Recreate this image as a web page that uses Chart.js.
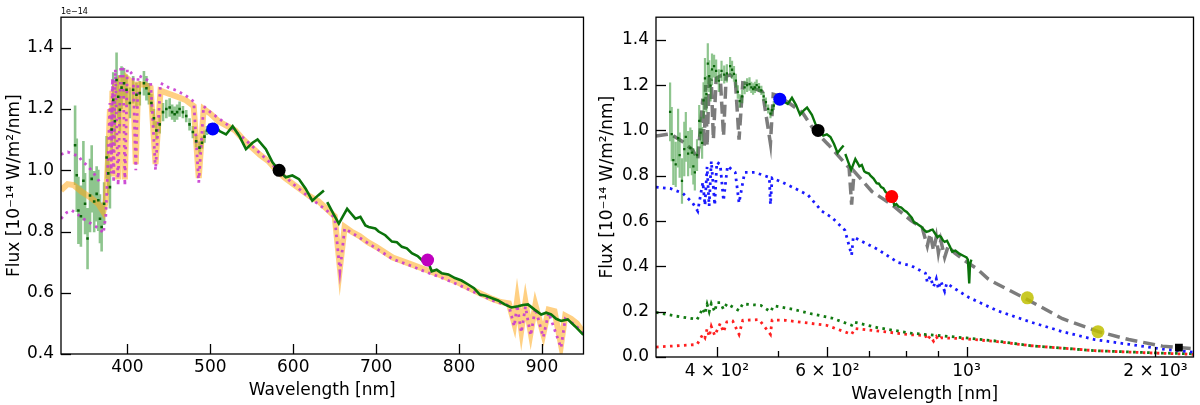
<!DOCTYPE html>
<html>
<head>
<meta charset="utf-8">
<script src="https://cdn.jsdelivr.net/npm/chart.js@4.4.1/dist/chart.umd.min.js"></script>
<style>
  html, body { margin: 0; padding: 0; background: #fff; }
  #wrap { position: relative; width: 1200px; height: 405px; }
  canvas { position: absolute; top: 0; }
  #left { left: 0; }
  #right { left: 590px; }
</style>
</head>
<body>
<div id="wrap">
  <canvas id="left" width="590" height="405"></canvas>
  <canvas id="right" width="610" height="405"></canvas>
</div>
<script>
// observed spectrum, noisy blue part (dots + error bars)
const obsWl = [337, 339, 341, 344, 347, 349, 352, 355, 357, 360, 363, 365, 367, 369, 372, 375, 377, 379,
  381, 383, 385, 387, 389, 391, 393, 396, 399, 403, 407, 411, 415, 420, 423, 426, 429, 432, 435, 439,
  443, 447, 451, 454, 457, 460, 463, 467, 471, 475, 479, 483, 487, 490, 493, 496, 499];
const obsFlux = [1.082, 0.984, 0.869, 0.85, 0.966, 0.891, 0.777, 0.918, 0.972, 0.898, 0.923, 0.902, 0.842, 0.815, 0.891, 1.042, 0.99, 0.945,
  1.133, 1.23, 1.16, 1.295, 1.24, 1.198, 1.27, 1.284, 1.263, 1.22, 1.263, 1.247, 1.252, 1.284, 1.268, 1.25, 1.22, 1.17, 1.13, 1.15,
  1.19, 1.2, 1.205, 1.19, 1.183, 1.19, 1.2, 1.19, 1.177, 1.15, 1.125, 1.095, 1.074, 1.09, 1.11, 1.13, 1.139];
const obsErr = [0.13, 0.12, 0.11, 0.1, 0.13, 0.1, 0.1, 0.12, 0.11, 0.1, 0.09, 0.1, 0.08, 0.08, 0.07, 0.07, 0.07, 0.07,
  0.08, 0.09, 0.08, 0.09, 0.07, 0.07, 0.07, 0.05, 0.05, 0.05, 0.045, 0.04, 0.04, 0.04, 0.04, 0.035, 0.03, 0.03, 0.03, 0.03,
  0.03, 0.03, 0.03, 0.025, 0.025, 0.025, 0.025, 0.02, 0.02, 0.02, 0.02, 0.02, 0.02, 0.02, 0.02, 0.015, 0.015];

// observed spectrum, red part (drawn as a line, null = gap)
const obsLineWl = [500, 505, 511, 519, 527, 535, 543, 551, 557, 567, 575, 583, 591, 599, 607, 615, 623, 630, 637,
  639, 641, 648, 655, 660, 665, 670, 675, 681, 687, 691, 699, 703, 711, 719, 725, 731, 737, 743, 750, 757, 762,
  767, 773, 779, 787, 795, 803, 811, 818, 825, 832, 839, 847, 855, 863, 871, 877, 883, 891, 899, 905, 911, 917,
  923, 931, 940, 949, 960, 975, 990, 1000, 1005, 1010, 1013, 1018];
const obsLineFlux = [1.14, 1.15, 1.128, 1.117, 1.144, 1.112, 1.069, 1.09, 1.101, 1.069, 1.026, 0.999, 0.977, 0.983, 0.971, 0.94, 0.901, 0.918, 0.934,
  null, 0.896, 0.86, 0.826, 0.85, 0.874, 0.858, 0.842, 0.848, 0.82, 0.815, 0.81, 0.8, 0.788, 0.767, 0.765, 0.75, 0.745, 0.729, 0.72, 0.702, 0.705,
  0.67, 0.675, 0.664, 0.66, 0.648, 0.64, 0.627, 0.615, 0.594, 0.59, 0.583, 0.575, 0.562, 0.552, 0.556, 0.56, 0.562, 0.545, 0.529, 0.535, 0.529, 0.515,
  0.508, 0.513, 0.49, 0.465, 0.47, 0.455, 0.446, 0.44, 0.43, 0.325, 0.41, 0.43];

// model spectrum (orange band, left panel)
const modelAWl = [320, 328, 335, 345, 355, 365, 371, 374, 377, 379, 380.5, 382, 383.5, 385.5, 388.9, 392, 395, 397, 400,
  404, 407, 410.2, 413, 420, 428, 434, 440, 450, 460, 470, 480, 486.1, 492, 500, 510, 520, 530, 540, 550, 560, 570, 580,
  590, 600, 610, 620, 630, 640, 650, 656.3, 662, 670, 680, 690, 700, 720, 740, 760, 780, 800, 820, 840, 850, 860, 866.5,
  870, 875, 880, 886.3, 892, 901.5, 908, 915, 922.9, 928, 935, 942, 950];
const modelAFlux = [0.935, 0.955, 0.952, 0.93, 0.912, 0.89, 0.864, 0.9, 1.05, 1.2, 1.0, 1.26, 0.98, 1.29, 0.97, 1.3, 1.3, 0.97, 1.3,
  1.29, 1.28, 1.02, 1.28, 1.28, 1.27, 1.02, 1.26, 1.25, 1.24, 1.23, 1.21, 0.975, 1.2, 1.185, 1.16, 1.145, 1.13, 1.1, 1.075, 1.05, 1.03, 1.0,
  0.975, 0.955, 0.935, 0.915, 0.9, 0.875, 0.85, 0.68, 0.815, 0.8, 0.785, 0.765, 0.75, 0.715, 0.695, 0.675, 0.655, 0.632, 0.605, 0.58, 0.57, 0.565, 0.5,
  0.575, 0.478, 0.57, 0.47, 0.56, 0.465, 0.545, 0.54, 0.43, 0.525, 0.515, 0.5, 0.47];

// model spectrum (magenta dotted, left panel)
const modelBWl = [320, 328, 335, 341, 345, 351, 357, 363, 367, 368,
  320, 327, 333, 339, 347, 353, 361, 367, 371, 374, 377, 379, 380.5, 382, 383.5, 385.5, 388.9, 392, 395, 397, 400,
  404, 407, 410.2, 413, 420, 428, 434, 440, 450, 460, 470, 480, 486.1, 492, 500, 520, 540, 560, 580, 600, 620, 640,
  650, 656.3, 662, 680, 700, 720, 740, 760, 780, 800, 820, 840, 860, 866.5, 870, 875, 880, 886.3, 892, 901.5, 908,
  922.9, 928, 940, 950];
const modelBFlux = [1.052, 1.06, 1.052, 1.047, 1.031, 1.017, 0.999, 0.977, 0.96, null,
  0.842, 0.862, 0.869, 0.858, 0.842, 0.831, 0.818, 0.808, 0.794, 0.85, 1.05, 1.22, 0.99, 1.3, 0.96, 1.33, 0.95, 1.34, 1.33, 0.95, 1.33,
  1.32, 1.31, 1.0, 1.31, 1.3, 1.29, 1.0, 1.285, 1.27, 1.26, 1.245, 1.225, 0.96, 1.21, 1.19, 1.15, 1.105, 1.055, 1.005, 0.955, 0.91, 0.87,
  0.845, 0.67, 0.81, 0.78, 0.745, 0.71, 0.69, 0.668, 0.648, 0.625, 0.6, 0.575, 0.558, 0.49, 0.56, 0.47, 0.555, 0.46, 0.55, 0.455, 0.535,
  0.42, 0.515, 0.495, 0.465];

// photometric points, left panel
const photLeftWl = [503, 583, 762];
const photLeftFlux = [1.135, 1.0, 0.707];
const photLeftColor = ['#0000ff', '#000000', '#bf00bf'];

// total SED model (grey dashed, right panel)
const sedWl = [320, 337, 353, 366, 373, 380, 382, 384, 386, 389, 392, 395, 399, 405, 410, 414, 420, 428, 434, 440,
  450, 460, 473, 487, 492, 500, 522, 548, 572, 603, 632, 650, 656, 662, 707, 760, 816, 850, 866, 875, 886, 895,
  902, 910, 923, 935, 956, 1000, 1040, 1081, 1105, 1250, 1422, 1622, 1814, 2052, 2300];
const sedFlux = [0.975, 0.985, 0.95, 0.914, 0.872, 1.14, 0.93, 1.2, 0.93, 1.227, 1.22, 0.96, 1.23, 1.24, 0.975, 1.24, 1.245, 1.227, 0.96, 1.21,
  1.205, 1.184, 1.17, 0.943, 1.16, 1.155, 1.12, 1.078, 1.0, 0.936, 0.872, 0.835, 0.673, 0.82, 0.73, 0.673, 0.602, 0.57, 0.49, 0.545, 0.47, 0.53,
  0.46, 0.515, 0.44, 0.49, 0.46, 0.42, 0.389, 0.346, 0.33, 0.254, 0.169, 0.112, 0.077, 0.048, 0.037];

// component 1 (blue dotted)
const compBlueWl = [320, 337, 353, 366, 373, 380, 383, 386, 388.9, 392, 397, 400, 405, 410, 416, 428, 434, 443, 460,
  485, 487, 490, 508, 533, 559, 588, 610, 640, 656, 660, 723, 778, 816, 860, 866, 875, 886, 895, 902, 910, 923, 930,
  960, 1010, 1120, 1263, 1422, 1600, 1814, 2052, 2300];
const compBlueFlux = [0.75, 0.744, 0.723, 0.68, 0.644, 0.772, 0.67, 0.84, 0.666, 0.865, 0.67, 0.86, 0.85, 0.69, 0.843, 0.815, 0.68, 0.815, 0.815,
  0.793, 0.673, 0.79, 0.772, 0.744, 0.715, 0.644, 0.616, 0.56, 0.45, 0.53, 0.474, 0.417, 0.403, 0.37, 0.33, 0.355, 0.31, 0.345, 0.3, 0.335, 0.29, 0.325,
  0.3, 0.262, 0.204, 0.155, 0.112, 0.077, 0.056, 0.035, 0.021];

// component 2 (green dotted)
const compGreenWl = [320, 345, 367, 372, 380, 383, 386, 389, 392, 397, 400, 405, 410, 415, 434, 440, 445, 470, 487,
  493, 530, 567, 610, 656, 660, 720, 816, 900, 1000, 1120, 1263, 1600, 2000, 2300];
const compGreenFlux = [0.197, 0.18, 0.169, 0.165, 0.215, 0.19, 0.232, 0.2, 0.236, 0.2, 0.24, 0.24, 0.21, 0.235, 0.205, 0.235, 0.233, 0.228, 0.2,
  0.226, 0.21, 0.19, 0.172, 0.14, 0.155, 0.13, 0.105, 0.095, 0.084, 0.07, 0.05, 0.028, 0.018, 0.014];

// component 3 (red dotted)
const compRedWl = [320, 372, 380, 383, 386, 389, 392, 397, 405, 410, 415, 424, 434, 440, 467, 487, 490, 515, 598,
  656, 664, 816, 860, 866, 875, 886, 895, 902, 910, 1000, 1120, 1263, 1600, 2000, 2300];
const compRedFlux = [0.044, 0.055, 0.1, 0.085, 0.125, 0.09, 0.135, 0.095, 0.148, 0.11, 0.155, 0.159, 0.1, 0.162, 0.165, 0.1, 0.163, 0.162, 0.14,
  0.1, 0.126, 0.098, 0.095, 0.075, 0.092, 0.07, 0.09, 0.075, 0.085, 0.08, 0.068, 0.05, 0.028, 0.017, 0.012];

// photometric points, right panel
const photRightWl = [504, 580, 760, 1250, 1620];
const photRightFlux = [1.138, 1.0, 0.708, 0.261, 0.112];
const photRightColor = ['#0000ff', '#000000', '#ff0000', 'rgba(191,191,0,0.85)', 'rgba(191,191,0,0.85)'];
const photSquareWl = [2180];
const photSquareFlux = [0.041];

// ticks
const leftXTicks = [400, 500, 600, 700, 800, 900];
const leftYTicks = [0.4, 0.6, 0.8, 1.0, 1.2, 1.4];
const rightXTicks = [400, 500, 600, 700, 800, 900, 1000, 2000];
const rightXLabels = ['4 × 10²', '', '6 × 10²', '', '', '', '10³', '2 × 10³'];
const rightYTicks = [0.0, 0.2, 0.4, 0.6, 0.8, 1.0, 1.2, 1.4];

const FONT = 'DejaVu Sans';
const FSIZE = 17;
const yTitle = 'Flux [10⁻¹⁴ W/m²/nm]';

const pts = (xs, ys) => xs.map((x, i) => ({ x: x, y: ys[i] }));

// vertical error bars as segments separated by gaps
const errSegments = () => {
  const out = [];
  obsWl.forEach((x, i) => {
    out.push({ x: x, y: obsFlux[i] - obsErr[i] });
    out.push({ x: x, y: obsFlux[i] + obsErr[i] });
    out.push({ x: x, y: null });
  });
  return out;
};

// frame + inward tick marks, like matplotlib
const frameTicks = {
  id: 'frameTicks',
  afterDraw(chart) {
    const { ctx, chartArea: a } = chart;
    const xs = chart.scales.x, ys = chart.scales.y;
    const opts = chart.options.plugins.frameTicks || {};
    ctx.save();
    ctx.strokeStyle = '#000000';
    ctx.lineWidth = 1.3;
    ctx.strokeRect(a.left, a.top, a.right - a.left, a.bottom - a.top);
    ctx.lineWidth = 1.3;
    xs.ticks.forEach(t => {
      const px = Math.round(xs.getPixelForValue(t.value)) + 0.5;
      const len = t.label ? 10 : 6;
      ctx.beginPath();
      ctx.moveTo(px, a.bottom);
      ctx.lineTo(px, a.bottom - len);
      ctx.stroke();
    });
    ys.ticks.forEach(t => {
      const py = Math.round(ys.getPixelForValue(t.value)) + 0.5;
      ctx.beginPath();
      ctx.moveTo(a.left, py);
      ctx.lineTo(a.left + 10, py);
      ctx.stroke();
    });
    if (opts.offsetText) {
      ctx.fillStyle = '#000';
      ctx.font = '8px "' + FONT + '"';
      ctx.textBaseline = 'alphabetic';
      ctx.textAlign = 'left';
      ctx.fillText(opts.offsetText, a.left, a.top - 3);
    }
    ctx.restore();
  }
};

const axisOpts = (ticks, min, max, type, labels, yAxisWidth, xAxisHeight) => ({
  x: {
    type: type,
    min: min,
    max: max,
    grid: { display: false, drawTicks: false },
    border: { display: false },
    afterBuildTicks: s => { s.ticks = ticks.x.map(v => ({ value: v })); },
    afterFit: s => { s.height = xAxisHeight; },
    ticks: {
      autoSkip: false, maxRotation: 0, padding: type === 'logarithmic' ? 4 : 3,
      color: '#000', font: { family: FONT, size: FSIZE },
      callback: (v, i) => labels ? labels[i] : String(v)
    },
    title: { display: true, text: 'Wavelength [nm]', color: '#000', font: { family: FONT, size: FSIZE },
      padding: { top: 0, bottom: type === 'logarithmic' ? 0 : 4 } }
  },
  y: {
    min: ticks.yMin,
    max: 1.5,
    grid: { display: false, drawTicks: false },
    border: { display: false },
    afterBuildTicks: s => { s.ticks = ticks.y.map(v => ({ value: v })); },
    afterFit: s => { s.width = yAxisWidth; },
    ticks: {
      padding: 7, color: '#000', font: { family: FONT, size: FSIZE },
      callback: v => Number(v).toFixed(1)
    },
    title: { display: true, text: yTitle, color: '#000', font: { family: FONT, size: FSIZE },
      padding: { top: type === 'logarithmic' ? 7 : 4, bottom: 0 } }
  }
});

const dotted = (data, color, order) => ({
  data: data, borderColor: color, borderWidth: 2.8, borderDash: [2.6, 4.4],
  pointRadius: 0, spanGaps: false, order: order
});

const baseOpts = {
  responsive: false,
  animation: false,
  events: []
};

new Chart(document.getElementById('left'), {
  type: 'line',
  data: {
    datasets: [
      { type: 'scatter', data: pts(photLeftWl, photLeftFlux), pointRadius: 6.5,
        pointBackgroundColor: photLeftColor, pointBorderWidth: 0, order: 0 },
      { data: pts(obsLineWl, obsLineFlux), borderColor: '#0b730b', borderWidth: 2.6,
        pointRadius: 0, spanGaps: false, order: 1 },
      { type: 'scatter', data: pts(obsWl, obsFlux), pointStyle: 'rect', pointRadius: 1.8,
        pointBackgroundColor: '#0a640a', pointBorderWidth: 0, order: 2 },
      dotted(pts(modelBWl, modelBFlux), 'rgba(200,60,210,0.9)', 3),
      { data: pts(modelAWl, modelAFlux), borderColor: 'rgba(255,170,30,0.55)', borderWidth: 6,
        pointRadius: 0, order: 4 },
      { data: errSegments(), borderColor: 'rgba(30,140,30,0.5)', borderWidth: 2.6,
        pointRadius: 0, spanGaps: false, order: 5 }
    ]
  },
  options: Object.assign({}, baseOpts, {
    layout: { padding: { top: 13, right: 5, bottom: 0, left: 0 } },
    scales: axisOpts({ x: leftXTicks, y: leftYTicks, yMin: 0.4 }, 320, 950, 'linear', null, 61, 51),
    plugins: { legend: { display: false }, tooltip: { enabled: false }, frameTicks: { offsetText: '1e\u221214' } }
  }),
  plugins: [frameTicks]
});

new Chart(document.getElementById('right'), {
  type: 'line',
  data: {
    datasets: [
      { type: 'scatter', data: pts(photSquareWl, photSquareFlux), pointStyle: 'rect', pointRadius: 5.5,
        pointBackgroundColor: '#000', pointBorderWidth: 0, order: 0 },
      { type: 'scatter', data: pts(photRightWl, photRightFlux), pointRadius: 6.5,
        pointBackgroundColor: photRightColor, pointBorderWidth: 0, order: 0 },
      { data: pts(obsLineWl, obsLineFlux), borderColor: '#0b730b', borderWidth: 2.4,
        pointRadius: 0, spanGaps: false, order: 1 },
      { type: 'scatter', data: pts(obsWl, obsFlux), pointStyle: 'rect', pointRadius: 1.6,
        pointBackgroundColor: '#0a640a', pointBorderWidth: 0, order: 2 },
      { data: errSegments(), borderColor: 'rgba(30,140,30,0.5)', borderWidth: 2.2,
        pointRadius: 0, spanGaps: false, order: 3 },
      { data: pts(sedWl, sedFlux), borderColor: 'rgba(110,110,110,0.9)', borderWidth: 3.5,
        borderDash: [12, 6], pointRadius: 0, order: 4 },
      dotted(pts(compBlueWl, compBlueFlux), '#1a1aff', 5),
      dotted(pts(compGreenWl, compGreenFlux), '#127a12', 6),
      dotted(pts(compRedWl, compRedFlux), '#ff2020', 7)
    ]
  },
  options: Object.assign({}, baseOpts, {
    layout: { padding: { top: 6, right: 2, bottom: 0, left: 0 } },
    scales: axisOpts({ x: rightXTicks, y: rightYTicks, yMin: 0 }, 320, 2300, 'logarithmic', rightXLabels, 66, 48),
    plugins: { legend: { display: false }, tooltip: { enabled: false }, frameTicks: {} }
  }),
  plugins: [frameTicks]
});
</script>
</body>
</html>
